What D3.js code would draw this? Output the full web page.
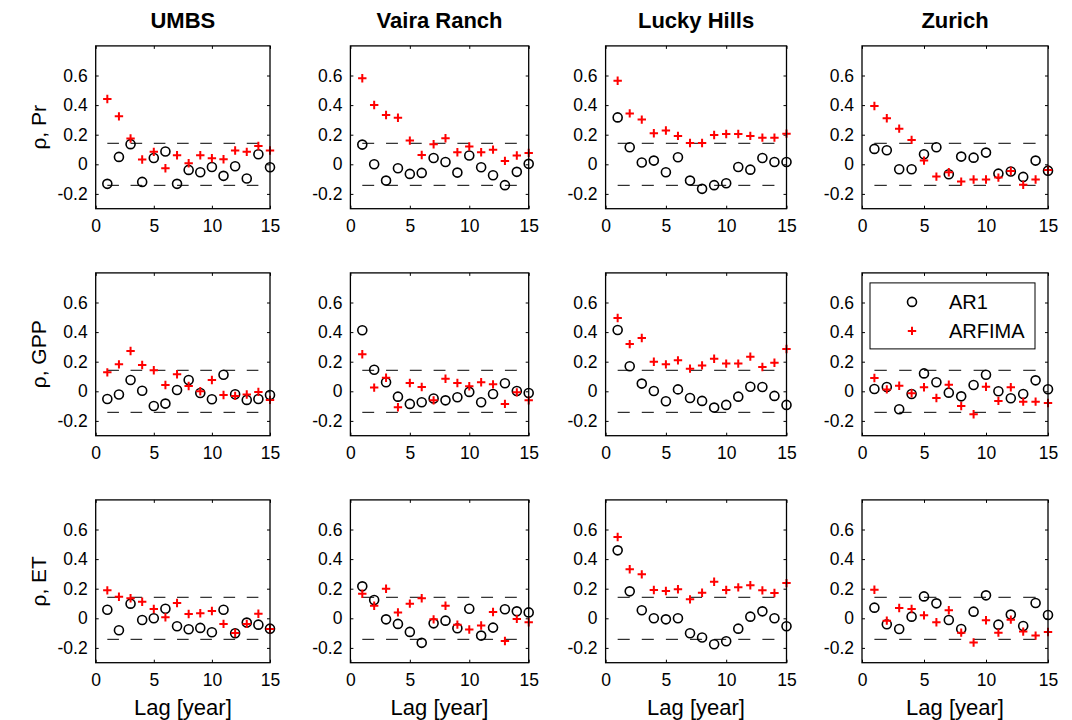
<!DOCTYPE html>
<html>
<head>
<meta charset="utf-8">
<script src="https://cdn.jsdelivr.net/npm/d3@7"></script>
<style>
  body { margin: 0; background: #fff; }
  text { font-family: "Liberation Sans", Arial, Helvetica, sans-serif; fill: #000; }
</style>
</head>
<body>
<svg id="chart" width="1072" height="720"></svg>
<script>
// Autocorrelation of annual anomalies, AR1 vs ARFIMA fits, per site and variable
const sites = ["UMBS", "Vaira Ranch", "Lucky Hills", "Zurich"];
const variables = ["Pr", "GPP", "ET"];
const lags = d3.range(1, 16);
const xTicks = [0, 5, 10, 15];
const yTicks = [-0.2, 0, 0.2, 0.4, 0.6];
const yTickLabels = ["-0.2", "0", "0.2", "0.4", "0.6"];
const confBound = 0.142;
const seriesNames = ["AR1", "ARFIMA"];

// Precipitation (one array per site)
const ar1Pr = [
  [-0.132, 0.050, 0.136, -0.119, 0.043, 0.086, -0.132, -0.038, -0.054, -0.018, -0.078, -0.013, -0.096, 0.068, -0.020],
  [0.133, 0.000, -0.110, -0.027, -0.065, -0.058, 0.043, 0.016, -0.056, 0.059, -0.020, -0.074, -0.141, -0.051, 0.003],
  [0.317, 0.115, 0.012, 0.025, -0.054, 0.048, -0.110, -0.166, -0.141, -0.128, -0.018, -0.036, 0.043, 0.016, 0.016],
  [0.104, 0.095, -0.033, -0.033, 0.068, 0.115, -0.067, 0.052, 0.045, 0.079, -0.063, -0.049, -0.085, 0.025, -0.043]
];
const arfimaPr = [
  [0.441, 0.324, 0.174, 0.032, 0.084, -0.027, 0.061, 0.007, 0.061, 0.041, 0.034, 0.093, 0.084, 0.124, 0.093],
  [0.581, 0.401, 0.333, 0.315, 0.160, 0.063, 0.135, 0.176, 0.081, 0.120, 0.081, 0.099, 0.023, 0.059, 0.077],
  [0.565, 0.344, 0.302, 0.210, 0.228, 0.192, 0.144, 0.144, 0.198, 0.205, 0.205, 0.192, 0.180, 0.180, 0.207],
  [0.394, 0.311, 0.241, 0.165, 0.025, -0.083, -0.054, -0.117, -0.103, -0.103, -0.090, -0.045, -0.139, -0.103, -0.038]
];

// Gross primary production
const ar1GPP = [
  [-0.052, -0.022, 0.076, 0.004, -0.099, -0.083, 0.009, 0.076, -0.011, -0.054, 0.112, -0.020, -0.058, -0.052, -0.025],
  [0.412, 0.146, 0.061, -0.036, -0.085, -0.074, -0.049, -0.061, -0.040, -0.004, -0.074, -0.018, 0.054, 0.002, -0.011],
  [0.414, 0.169, 0.052, 0.002, -0.067, 0.013, -0.045, -0.065, -0.110, -0.092, -0.036, 0.031, 0.029, -0.031, -0.092],
  [0.016, 0.029, -0.121, -0.018, 0.121, 0.061, -0.009, -0.034, 0.043, 0.112, 0.000, -0.047, -0.018, 0.074, 0.014]
];
const arfimaGPP = [
  [0.128, 0.182, 0.272, 0.178, 0.142, 0.043, 0.115, 0.036, 0.000, 0.076, -0.025, -0.031, -0.022, -0.004, -0.058],
  [0.250, 0.025, 0.092, -0.108, 0.056, 0.029, -0.061, 0.085, 0.056, 0.034, 0.061, 0.047, -0.085, -0.007, -0.061],
  [0.495, 0.319, 0.360, 0.200, 0.182, 0.209, 0.153, 0.175, 0.220, 0.187, 0.187, 0.234, 0.164, 0.193, 0.286],
  [0.090, 0.013, 0.038, -0.013, 0.027, -0.045, 0.045, -0.099, -0.155, 0.031, -0.065, 0.027, -0.070, -0.070, -0.079]
];

// Evapotranspiration
const ar1ET = [
  [0.058, -0.081, 0.099, -0.011, 0.000, 0.065, -0.054, -0.074, -0.065, -0.094, 0.058, -0.101, -0.029, -0.043, -0.070],
  [0.216, 0.124, -0.007, -0.038, -0.092, -0.166, -0.034, -0.016, -0.067, 0.065, -0.117, -0.063, 0.061, 0.047, 0.040],
  [0.459, 0.182, 0.054, 0.000, -0.007, 0.000, -0.101, -0.130, -0.175, -0.155, -0.070, 0.011, 0.047, 0.000, -0.054],
  [0.072, -0.040, -0.072, 0.011, 0.148, 0.101, -0.011, -0.072, 0.045, 0.155, -0.043, 0.025, -0.052, 0.103, 0.022]
];
const arfimaET = [
  [0.189, 0.146, 0.135, 0.112, 0.063, 0.007, 0.103, 0.029, 0.034, 0.049, -0.038, -0.099, -0.038, 0.031, -0.072],
  [0.166, 0.085, 0.200, 0.040, 0.099, 0.135, -0.007, 0.085, -0.043, -0.076, -0.049, 0.043, -0.153, -0.004, -0.027],
  [0.549, 0.331, 0.297, 0.191, 0.184, 0.196, 0.128, 0.173, 0.247, 0.191, 0.209, 0.223, 0.189, 0.171, 0.238],
  [0.193, -0.016, 0.070, 0.063, 0.020, -0.027, 0.054, -0.097, -0.164, -0.013, -0.097, -0.009, -0.090, -0.117, -0.093]
];

const ar1Rows = [ar1Pr, ar1GPP, ar1ET];
const arfimaRows = [arfimaPr, arfimaGPP, arfimaET];

// Panel placement
const colBounds = [[95.7, 270], [350.4, 528.7], [605.6, 786.5], [862, 1048]];
const rowBounds = [[45.9, 208.7], [272.9, 435.7], [499.9, 662.7]];

const svg = d3.select("#chart");
const tickFont = 17.5;

rowBounds.forEach(([top, bottom], r) => {
  colBounds.forEach(([left, right], c) => {
    const w = right - left, h = bottom - top;
    const x = d3.scaleLinear().domain([0, 15]).range([0, w]);
    const y = d3.scaleLinear().domain([-0.3, 0.8]).range([h, 0]);
    const g = svg.append("g").attr("transform", `translate(${left},${top})`);

    // inward ticks on all four sides
    const axB = g.append("g").attr("transform", `translate(0,${h})`)
      .call(d3.axisBottom(x).tickValues(xTicks).tickSize(-3).tickPadding(11).tickFormat(d3.format("d")));
    const axT = g.append("g")
      .call(d3.axisTop(x).tickValues(xTicks).tickSize(-3).tickFormat(""));
    const axL = g.append("g")
      .call(d3.axisLeft(y).tickValues(yTicks).tickSize(-3).tickPadding(8)
        .tickFormat((d, i) => yTickLabels[i]));
    const axR = g.append("g").attr("transform", `translate(${w},0)`)
      .call(d3.axisRight(y).tickValues(yTicks).tickSize(-3).tickFormat(""));
    [axB, axT, axL, axR].forEach(a => {
      a.select(".domain").remove();
      a.selectAll(".tick line").attr("stroke", "#000").attr("stroke-width", 1);
      a.selectAll(".tick text").attr("font-size", tickFont)
        .attr("font-family", "'Liberation Sans', Arial, sans-serif").attr("fill", "#000");
    });

    // significance bounds
    const step = x(1) - x(0);
    [confBound, -confBound].forEach(b => {
      g.append("line")
        .attr("x1", x(1)).attr("x2", x(14))
        .attr("y1", y(b)).attr("y2", y(b))
        .attr("stroke", "#000").attr("stroke-width", 1)
        .attr("stroke-dasharray", `${step},${step}`);
    });

    // AR1: open circles
    g.selectAll("circle.ar1").data(ar1Rows[r][c]).enter().append("circle")
      .attr("class", "ar1")
      .attr("cx", (d, i) => x(lags[i])).attr("cy", d => y(d)).attr("r", 4.5)
      .attr("fill", "none").attr("stroke", "#000").attr("stroke-width", 1.6);

    // ARFIMA: red plus signs
    g.selectAll("path.arfima").data(arfimaRows[r][c]).enter().append("path")
      .attr("class", "arfima")
      .attr("transform", (d, i) => `translate(${x(lags[i])},${y(d)})`)
      .attr("d", "M-4.2,0H4.2M0,-4.2V4.2")
      .attr("stroke", "#ff0000").attr("stroke-width", 2).attr("fill", "none");

    // frame
    g.append("rect").attr("width", w).attr("height", h)
      .attr("fill", "none").attr("stroke", "#000").attr("stroke-width", 1.3);

    if (r === 0) {
      g.append("text").attr("x", w / 2).attr("y", -18).attr("text-anchor", "middle")
        .attr("font-size", 22).attr("font-weight", "bold").text(sites[c]);
    }
    if (c === 0) {
      g.append("text")
        .attr("transform", `translate(${-50},${h / 2}) rotate(-90)`)
        .attr("text-anchor", "middle").attr("font-size", 21)
        .text(`ρ, ${variables[r]}`);
    }
    if (r === rowBounds.length - 1) {
      g.append("text").attr("x", w / 2).attr("y", h + 52).attr("text-anchor", "middle")
        .attr("font-size", 22).text("Lag [year]");
    }

    // legend
    if (r === 1 && c === 3) {
      const lg = g.append("g").attr("transform", "translate(8,10)");
      lg.append("rect").attr("width", 165).attr("height", 66)
        .attr("fill", "#fff").attr("stroke", "#000").attr("stroke-width", 1);
      lg.append("circle").attr("cx", 42).attr("cy", 19).attr("r", 4.5)
        .attr("fill", "none").attr("stroke", "#000").attr("stroke-width", 1.6);
      lg.append("path").attr("transform", "translate(42,48)")
        .attr("d", "M-4.2,0H4.2M0,-4.2V4.2")
        .attr("stroke", "#ff0000").attr("stroke-width", 2);
      lg.append("text").attr("x", 79).attr("y", 26).attr("font-size", 20).text(seriesNames[0]);
      lg.append("text").attr("x", 79).attr("y", 55).attr("font-size", 20).text(seriesNames[1]);
    }
  });
});
</script>
</body>
</html>
